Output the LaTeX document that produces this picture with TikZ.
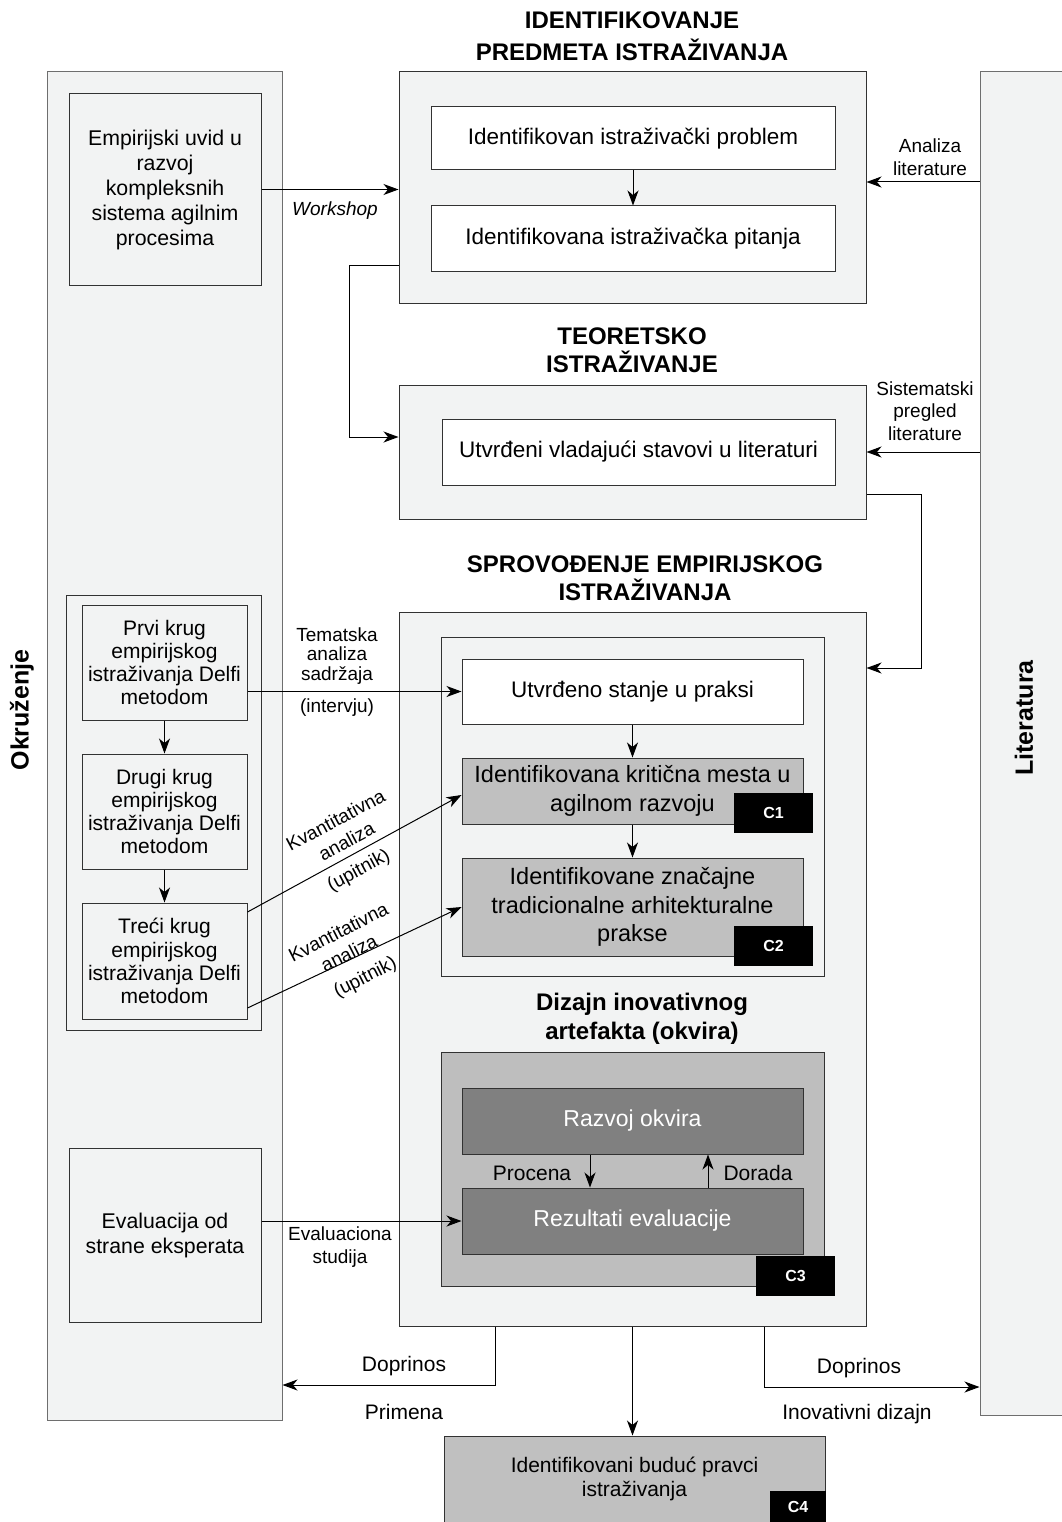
\documentclass[tikz,border=0pt]{standalone}
\usepackage{fontspec}
\setmainfont{Liberation Sans}
\usetikzlibrary{arrows.meta}

\definecolor{panel}{RGB}{242,243,243}
\definecolor{midgray}{RGB}{192,192,192}
\definecolor{groupgray}{RGB}{190,190,190}
\definecolor{darkbox}{RGB}{128,128,128}
\definecolor{frame}{RGB}{50,50,50}
\definecolor{panelline}{RGB}{110,110,110}

\tikzset{
  sz/.style 2 args={minimum width=#1pt, minimum height=#2pt},
  base/.style={draw=frame, line width=1pt, inner sep=0pt, align=center},
  side/.style={draw=panelline, line width=1pt, fill=panel, inner sep=0pt},
  whitebox/.style={base, fill=white, font=\fontsize{22.5}{27}\selectfont},
  greybox/.style={base, fill=midgray, font=\fontsize{23.5}{28.5}\selectfont},
  darkbx/.style={base, fill=darkbox, text=white, font=\fontsize{23}{27}\selectfont},
  stage/.style={base, fill=panel},
  envbox/.style={base, fill=panel, font=\fontsize{21.3}{25}\selectfont},
  roundbox/.style={base, fill=panel, font=\fontsize{21}{23.2}\selectfont},
  lbl/.style={font=\fontsize{19}{22.5}\selectfont, align=center, inner sep=0pt},
  biglbl/.style={lbl, font=\fontsize{21}{24}\selectfont},
  slant/.style={lbl, font=\fontsize{19}{23.5}\selectfont},
  heading/.style={font=\bfseries\fontsize{24}{29}\selectfont, align=center, inner sep=0pt},
  sidelabel/.style={font=\bfseries\fontsize{25}{25}\selectfont, rotate=90, inner sep=0pt},
  tag/.style={fill=black, text=white, font=\bfseries\fontsize{16}{16}\selectfont,
              inner sep=0pt, minimum width=79pt, minimum height=40pt},
  arr/.style={draw=black, line width=1pt, -{Stealth[length=15pt,width=11pt,inset=4.5pt]}},
}

\begin{document}
\begin{tikzpicture}[x=1pt,y=1pt]
\useasboundingbox (0,0) rectangle (1061,-1522);

% side panels
\node[side, sz={235}{1348}] (okr) at (164.5,-746) {};
\node[side, sz={100}{1343}] (lit) at (1030,-743.5) {};
\node[sidelabel] (okrlabel) at (22,-710) {Okruženje};
\node[sidelabel] (litlabel) at (1024,-718) {Literatura};

% stage 1
\node[heading, font=\bfseries\fontsize{24}{32}\selectfont] (h1) at (632,-36) {IDENTIFIKOVANJE\\PREDMETA ISTRAŽIVANJA};
\node[stage, sz={467}{231}] (box1) at (632.5,-187.5) {};
\node[whitebox, sz={404}{63}] (p1) at (633,-138.5) {Identifikovan istraživački problem};
\node[whitebox, sz={404}{65}] (p2) at (633,-238.5) {Identifikovana istraživačka pitanja};
\node[envbox, sz={192}{191}] (emp) at (165,-189.5) {Empirijski uvid u\\razvoj\\kompleksnih\\sistema agilnim\\procesima};

% stage 2
\node[heading, font=\bfseries\fontsize{24}{28}\selectfont] (h2) at (632,-350) {TEORETSKO\\ISTRAŽIVANJE};
\node[stage, sz={467}{134}] (box2) at (632.5,-452) {};
\node[whitebox, sz={393}{66}] (t1) at (638.5,-452) {Utvrđeni vladajući stavovi u literaturi};

% stage 3
\node[heading, font=\bfseries\fontsize{24}{28}\selectfont] (h3) at (645,-578) {SPROVOĐENJE EMPIRIJSKOG\\ISTRAŽIVANJA};
\node[stage, sz={467}{714}] (box3) at (632.5,-969) {};
\node[stage, sz={383}{339}] (g1) at (632.5,-806.5) {};
\node[whitebox, sz={341}{65}] (s1) at (632.5,-691.5) {Utvrđeno stanje u praksi};
\node[greybox, sz={341}{66}] (s2) at (632.5,-791) {Identifikovana kritična mesta u\\agilnom razvoju};
\node[greybox, sz={341}{98}] (s3) at (632.5,-907) {Identifikovane značajne\\tradicionalne arhitekturalne\\prakse};
\node[tag] (c1) at (773.5,-813) {C1};
\node[tag] (c2) at (773.5,-946) {C2};

\node[heading] (h4) at (642,-1019) {Dizajn inovativnog\\artefakta (okvira)};
\node[base, fill=groupgray, sz={383}{234}] (g2) at (632.5,-1169) {};
\node[darkbx, sz={341}{66}] (r1) at (632.5,-1121) {Razvoj okvira};
\node[darkbx, sz={341}{66}] (r2) at (632.5,-1221) {Rezultati evaluacije};
\node[tag] (c3) at (795.5,-1276) {C3};

% Delphi rounds
\node[stage, sz={195}{435}] (lg) at (163.5,-812.5) {};
\node[roundbox, sz={165}{115}] (k1) at (164.5,-662.5) {Prvi krug\\empirijskog\\istraživanja Delfi\\metodom};
\node[roundbox, sz={165}{115}] (k2) at (164.5,-811.5) {Drugi krug\\empirijskog\\istraživanja Delfi\\metodom};
\node[roundbox, sz={165}{116}] (k3) at (164.5,-961) {Treći krug\\empirijskog\\istraživanja Delfi\\metodom};

\node[envbox, sz={192}{174}] (ev) at (165,-1235) {Evaluacija od\\strane eksperata};

% future directions
\node[base, fill=midgray, sz={381}{86}, font=\fontsize{21}{24}\selectfont] (c4box) at (634.5,-1479) {Identifikovani buduć pravci\\istraživanja};
\node[tag, minimum width=56pt, minimum height=31pt] (c4) at (798,-1506.5) {C4};

% connectors, stage 1
\draw[arr] (p1) -- (p2);
\draw[arr] (emp.east) -- (emp.east -| box1.west);
\node[lbl, font=\itshape\fontsize{19}{22}\selectfont] (lwork) at (335,-211) {Workshop};
\draw[arr] (lit.west |- 0,-182) -- (box1.east |- 0,-182);
\node[lbl] (lanal) at (930,-157) {Analiza\\literature};

% stage 1 to stage 2
\draw[arr] (box1.west |- 0,-265) -- (349,-265) |- (box2.west |- 0,-437);
\draw[arr] (lit.west |- t1.east) -- (box2.east |- t1.east);
\node[lbl] (lsist) at (925,-411) {Sistematski\\pregled\\literature};

% stage 2 to stage 3
\draw[arr] (box2.east |- 0,-494) -- (921,-494) |- (box3.east |- 0,-668);

% empirical research
\draw[arr] (s1) -- (s2);
\draw[arr] (s2) -- (s3);
\draw[arr] (k1) -- (k2);
\draw[arr] (k2) -- (k3);
\draw[arr] (k1.east |- s1.west) -- (s1.west);
\node[lbl, font=\fontsize{19}{19.5}\selectfont] (ltem) at (337,-656) {Tematska\\analiza\\sadržaja};
\node[lbl] (lint) at (337,-708) {(intervju)};

\draw[arr] ([yshift=49pt]k3.east) -- ([yshift=-4pt]s2.west);
\node[slant, rotate=28] (lkv1) at (341,-830.5) {Kvantitativna\\analiza};
\node[slant, rotate=28] (lup1) at (359,-871) {(upitnik)};
\draw[arr] ([yshift=-47pt]k3.east) -- (s3.west);
\node[slant, rotate=27] (lkv2) at (343.5,-942.5) {Kvantitativna\\analiza};
\node[slant, rotate=27] (lup2) at (365.5,-978) {(upitnik)};

% design cycle
\draw[arr] (r1.south -| 590,0) -- (r2.north -| 590,0);
\draw[arr] (r2.north -| 708,0) -- (r1.south -| 708,0);
\node[biglbl] (lproc) at (532,-1173) {Procena};
\node[biglbl] (ldor) at (758,-1173) {Dorada};
\draw[arr] (ev.east |- r2.west) -- (r2.west);
\node[lbl] (levs) at (340,-1247) {Evaluaciona\\studija};

% contributions
\draw[arr] (box3.south -| 495,0) |- (okr.east |- 0,-1385);
\node[biglbl] (ldop1) at (404,-1366) {Doprinos};
\node[biglbl] (lprim) at (404,-1412) {Primena};
\draw[arr] (box3.south) -- (box3.south |- c4box.north);
\draw[arr] (box3.south -| 764,0) |- (lit.west |- 0,-1387);
\node[biglbl] (ldop2) at (859,-1368) {Doprinos};
\node[biglbl] (linov) at (857,-1414) {Inovativni dizajn};
\end{tikzpicture}
\end{document}
